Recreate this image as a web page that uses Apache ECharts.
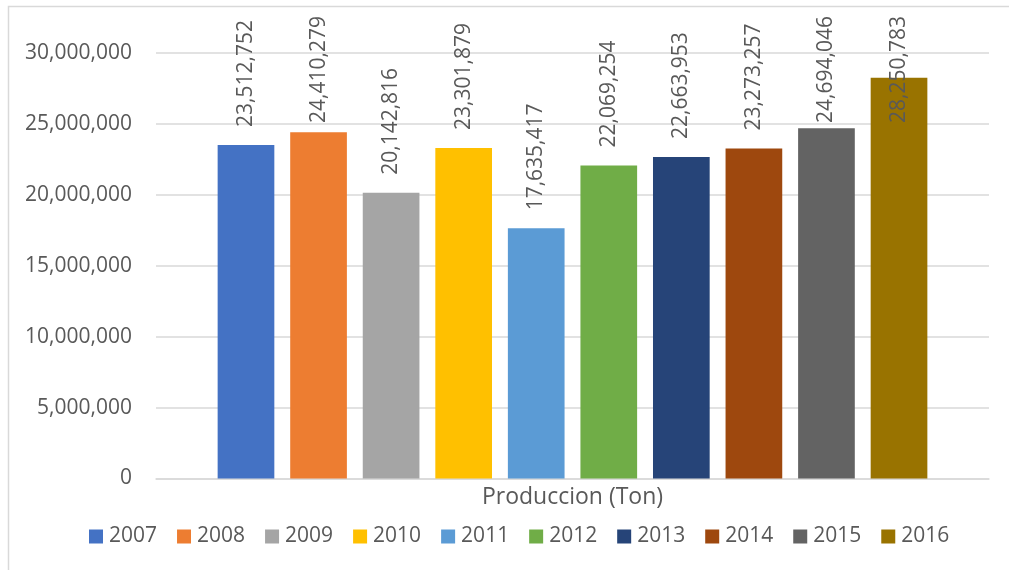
<!DOCTYPE html>
<html>
<head>
<meta charset="utf-8">
<script src="https://cdn.jsdelivr.net/npm/echarts@6/dist/echarts.min.js"></script>
<style>
  html, body { margin: 0; padding: 0; background: #fff; }
  #chart { width: 1009px; height: 570px; }
</style>
</head>
<body>
<div id="chart"></div>
<script>
  // datos de produccion por año
  const categories = ['Produccion (Ton)']
  const years = ['2007', '2008', '2009', '2010', '2011', '2012', '2013', '2014', '2015', '2016']
  const values = [23512752, 24410279, 20142816, 23301879, 17635417, 22069254, 22663953, 23273257, 24694046, 28250783]
  const yTicks = [0, 5000000, 10000000, 15000000, 20000000, 25000000, 30000000]

  const colors = ['#4472C4', '#ED7D31', '#A5A5A5', '#FFC000', '#5B9BD5', '#70AD47', '#264478', '#9E480E', '#636363', '#997300']
  const textColor = '#595959'
  const font = 'Open Sans'
  const labelDist = 18
  const labelBottomLimit = 123 // Excel empuja hacia abajo las etiquetas que no caben arriba

  const fmt = v => Number(v).toLocaleString('en-US')

  const series = years.map((y, i) => ({
    name: y,
    type: 'bar',
    data: [values[i]],
    barGap: '28%',
    barCategoryGap: '14.8%',
    itemStyle: { color: colors[i] },
    label: {
      show: true,
      position: 'top',
      rotate: 90,
      align: 'left',
      verticalAlign: 'middle',
      distance: labelDist,
      color: textColor,
      fontFamily: font,
      fontSize: 21,
      formatter: p => fmt(p.value)
    }
  }))

  const chart = echarts.init(document.getElementById('chart'))
  chart.setOption({
    animation: false,
    color: colors,
    graphic: [{
      type: 'rect',
      shape: { x: 8.5, y: 6.5, width: 1200, height: 800 },
      style: { fill: 'none', stroke: '#d9d9d9', lineWidth: 1.5 },
      silent: true
    }],
    grid: {
      left: 156,
      right: 20,
      top: 53,
      bottom: 91.5,
      containLabel: false
    },
    legend: {
      data: years,
      bottom: 18,
      left: 84,
      icon: 'rect',
      itemWidth: 14,
      itemHeight: 14,
      itemGap: 20,
      textStyle: { color: textColor, fontFamily: font, fontSize: 21, padding: [0, 0, 0, 1] }
    },
    xAxis: {
      type: 'category',
      data: categories,
      axisTick: { show: false },
      axisLine: { lineStyle: { color: '#d9d9d9', width: 1.5 } },
      axisLabel: { color: textColor, fontFamily: font, fontSize: 23, margin: 7 }
    },
    yAxis: {
      type: 'value',
      min: yTicks[0],
      max: yTicks[yTicks.length - 1],
      interval: 5000000,
      axisLine: { show: false },
      axisTick: { show: false },
      splitLine: { lineStyle: { color: '#d9d9d9', width: 1.5 } },
      axisLabel: {
        color: textColor,
        fontFamily: font,
        fontSize: 21,
        margin: 24,
        formatter: v => fmt(v)
      }
    },
    series: series
  })

  // ajustar las etiquetas que se saldrian por arriba
  chart.setOption({
    series: values.map(v => {
      const barTop = chart.convertToPixel({ yAxisIndex: 0 }, v)
      return { label: { distance: Math.min(labelDist, barTop - labelBottomLimit) } }
    })
  })
</script>
</body>
</html>
